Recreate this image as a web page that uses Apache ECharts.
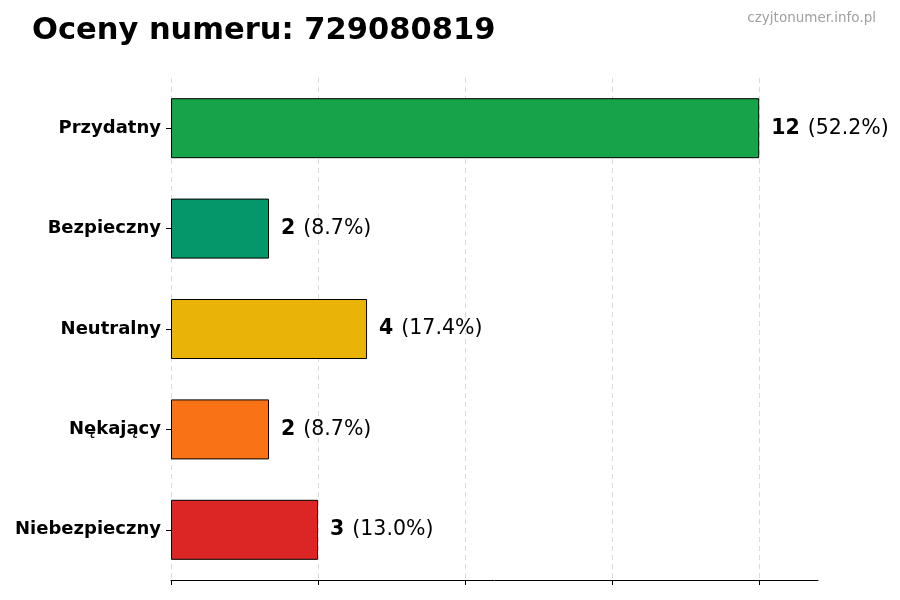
<!DOCTYPE html>
<html lang="pl">
<head>
  <meta charset="UTF-8" />
  <title>Oceny numeru</title>
  <script src="https://cdn.jsdelivr.net/npm/echarts@6/dist/echarts.min.js"></script>
  <style>
    html, body { margin: 0; padding: 0; background: #fff; }
    #main { width: 900px; height: 600px; }
  </style>
</head>
<body>
  <div id="main"></div>
  <script>
    // dane z wykresu (od góry do dołu)
    var categories = ["Przydatny", "Bezpieczny", "Neutralny", "Nękający", "Niebezpieczny"];
    var counts = [12, 2, 4, 2, 3];
    var percents = ["52.2%", "8.7%", "17.4%", "8.7%", "13.0%"];
    var colors = ["#16a34a", "#059669", "#eab308", "#f97316", "#dc2626"];
    var xTicks = [0, 3, 6, 9, 12];

    var font = "DejaVu Sans";
    var myChart = echarts.init(document.getElementById("main"));

    var option = {
      animation: false,
      textStyle: { fontFamily: font },
      title: [
        {
          text: "Oceny numeru: 729080819",
          left: 27,
          top: 11,
          textStyle: { fontFamily: font, fontSize: 30.5, fontWeight: "bold", color: "#000" }
        },
        {
          text: "czyjtonumer.info.pl",
          right: 19,
          top: 6,
          textStyle: { fontFamily: font, fontSize: 13.5, fontWeight: "normal", color: "#a0a0a0" }
        }
      ],
      grid: { left: 171, right: 82, top: 78, bottom: 20 },
      xAxis: {
        type: "value",
        min: 0,
        max: 13.2,
        interval: 3,
        axisLine: { show: true, lineStyle: { color: "#000", width: 1 } },
        axisTick: { show: true, length: 5, customValues: xTicks, lineStyle: { color: "#000" } },
        axisLabel: { show: false },
        splitLine: { show: true, lineStyle: { color: "#d0d0d0", type: [5, 4], width: 0.8 } }
      },
      yAxis: {
        type: "category",
        inverse: true,
        data: categories,
        axisLine: { show: false },
        axisTick: { show: true, alignWithLabel: true, length: 5, lineStyle: { color: "#000" } },
        axisLabel: { color: "#000", fontSize: 18, fontWeight: "bold", fontFamily: font, margin: 10 },
        splitLine: { show: false }
      },
      series: [
        {
          type: "bar",
          barWidth: 60,
          data: counts.map(function (v, i) {
            return {
              value: v,
              itemStyle: { color: colors[i], borderColor: "#000", borderWidth: 1 }
            };
          }),
          label: {
            show: true,
            position: "right",
            distance: 12,
            formatter: function (p) {
              return "{b|" + p.value + "}{s| }{n|(" + percents[p.dataIndex] + ")}";
            },
            rich: {
              b: { fontFamily: font, fontSize: 20.5, fontWeight: "bold", color: "#000" },
              s: { fontFamily: font, fontSize: 20.5, width: 8 },
              n: { fontFamily: font, fontSize: 20.5, color: "#000" }
            }
          }
        }
      ]
    };

    myChart.setOption(option);
  </script>
</body>
</html>
